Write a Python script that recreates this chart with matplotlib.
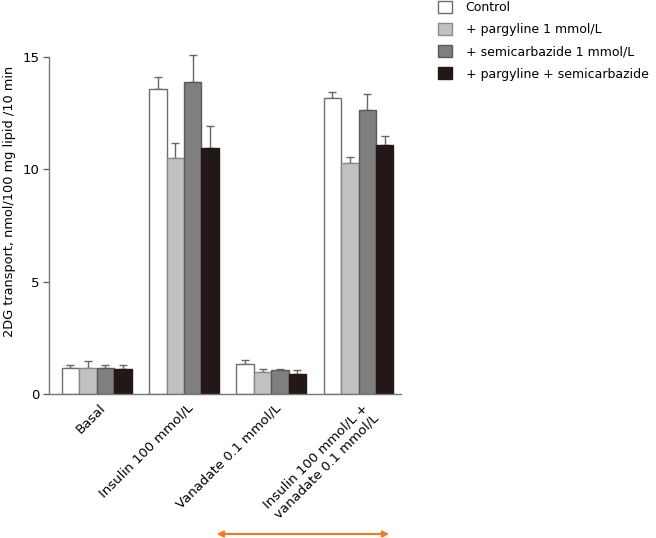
import matplotlib
matplotlib.use("Agg")
import matplotlib.pyplot as plt
from matplotlib.patches import Patch
import numpy as np

categories = ["Basal", "Insulin 100 mmol/L", "Vanadate 0.1 mmol/L",
              "Insulin 100 mmol/L +\nvanadate 0.1 mmol/L"]
series = ["Control", "+ pargyline 1 mmol/L", "+ semicarbazide 1 mmol/L",
          "+ pargyline + semicarbazide"]
control = [1.15, 13.57, 1.36, 13.16]
pargyline = [1.15, 10.50, 1.00, 10.28]
semicarbazide = [1.15, 13.86, 1.10, 12.62]
combined = [1.11, 10.96, 0.92, 11.07]
control_err = [0.14, 0.51, 0.18, 0.29]
pargyline_err = [0.31, 0.65, 0.12, 0.28]
semicarbazide_err = [0.14, 1.22, 0.04, 0.71]
combined_err = [0.19, 0.94, 0.15, 0.42]
yticks = [0, 5, 10, 15]

values = [control, pargyline, semicarbazide, combined]
errors = [control_err, pargyline_err, semicarbazide_err, combined_err]
colors = ["#ffffff", "#c0c1c1", "#7f7f7f", "#231815"]
edges = ["#6e6e6e", "#8a8a8a", "#5a5a5a", "#231815"]

plt.rcParams['font.family'] = ['DejaVu Sans']
fig = plt.figure(figsize=(6.56, 5.38), dpi=100)
ax = fig.add_axes([49/656, 1-394.3/538, (401-49)/656, (394.3-56.7)/538])

x = np.arange(len(categories))
w = 0.2
for i, (vals, errs) in enumerate(zip(values, errors)):
    pos = x + (i - 1.5) * w
    ax.bar(pos, vals, width=w, color=colors[i], edgecolor=edges[i],
           linewidth=1.0, zorder=2)
    ax.errorbar(pos, vals, yerr=[np.zeros(len(errs)), errs], fmt='none',
                ecolor="#666666", elinewidth=1.0, capsize=3, capthick=1.0,
                zorder=1, clip_on=False)

ax.set_xlim(-0.546, 3.486)
ax.set_ylim(0, 15)
ax.set_yticks(yticks)
ax.set_yticklabels([str(t) for t in yticks], fontsize=9.5)
ax.tick_params(axis='y', length=4, color="#666666", width=1, pad=3)
ax.tick_params(axis='x', length=0, pad=5)
ax.set_xticks(x + 0.03)
ax.set_xticklabels(categories, rotation=45, ha='right', va='top',
                   rotation_mode='anchor', fontsize=9.5, multialignment='center')
for s in ['top', 'right']:
    ax.spines[s].set_visible(False)
for s in ['left', 'bottom']:
    ax.spines[s].set_color("#777777")
    ax.spines[s].set_linewidth(1.0)
ax.set_ylabel("2DG transport, nmol/100 mg lipid /10 min", fontsize=9.3)
ax.yaxis.set_label_coords(-0.093, 0.57)

handles = [Patch(facecolor=colors[i], edgecolor=edges[i], linewidth=1.0)
           for i in range(4)]
fig.legend(handles, series, loc='upper left', bbox_to_anchor=(433/656, 1.008),
           frameon=False, fontsize=9, handlelength=1.1, handleheight=1.1,
           handletextpad=1.1, labelspacing=0.72, borderaxespad=0)

fig.patches.append(matplotlib.patches.FancyArrowPatch(
    (214/656, 1-534/538), (392/656, 1-534/538), transform=fig.transFigure,
    arrowstyle='<|-|>', mutation_scale=9, color="#f47920", linewidth=1.5))

fig.savefig("out.png", dpi=100)
